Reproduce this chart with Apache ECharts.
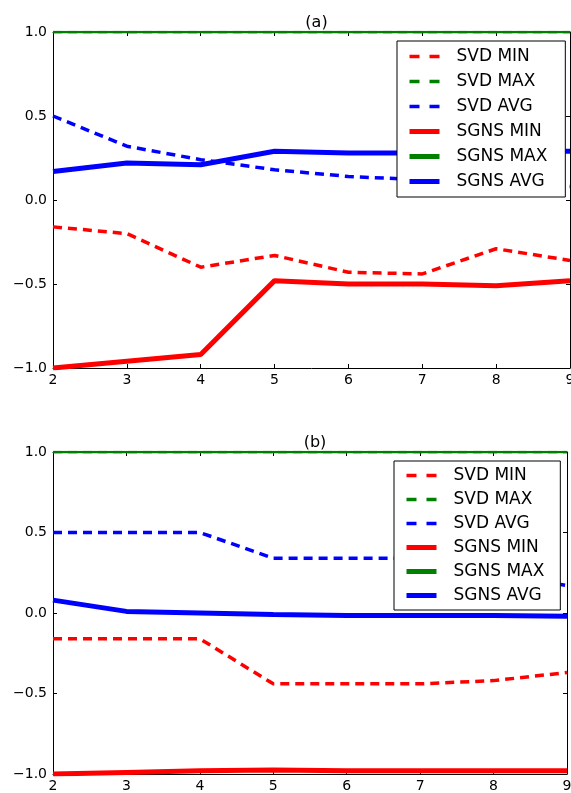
<!DOCTYPE html>
<html><head><meta charset="utf-8">
<script src="https://cdn.jsdelivr.net/npm/echarts@6/dist/echarts.min.js"></script>
<style>html,body{margin:0;padding:0;background:#fff}#c{width:571px;height:793px}</style>
</head><body><div id="c"></div>
<script>
const categories = ['2','3','4','5','6','7','8','9'];
const seriesNames = ['SVD MIN','SVD MAX','SVD AVG','SGNS MIN','SGNS MAX','SGNS AVG'];
const yTicks = [-1.0,-0.5,0.0,0.5,1.0];

// chart (a)
const a_svdMin  = [-0.16,-0.20,-0.40,-0.33,-0.43,-0.44,-0.29,-0.36];
const a_svdMax  = [1,1,1,1,1,1,1,1];
const a_svdAvg  = [0.50,0.32,0.24,0.18,0.14,0.12,0.10,0.08];
const a_sgnsMin = [-1.00,-0.96,-0.92,-0.48,-0.50,-0.50,-0.51,-0.48];
const a_sgnsMax = [1,1,1,1,1,1,1,1];
const a_sgnsAvg = [0.17,0.22,0.21,0.29,0.28,0.28,0.29,0.29];

// chart (b)
const b_svdMin  = [-0.16,-0.16,-0.16,-0.44,-0.44,-0.44,-0.42,-0.37];
const b_svdMax  = [1,1,1,1,1,1,1,1];
const b_svdAvg  = [0.50,0.50,0.50,0.34,0.34,0.34,0.25,0.17];
const b_sgnsMin = [-1.00,-0.99,-0.98,-0.975,-0.98,-0.98,-0.98,-0.98];
const b_sgnsMax = [1,1,1,1,1,1,1,1];
const b_sgnsAvg = [0.08,0.01,0.00,-0.01,-0.015,-0.015,-0.015,-0.02];

const colors = ['#ff0000','#008000','#0000ff','#ff0000','#008000','#0000ff'];
const FONT = 'DejaVu Sans';

function fmt(v){ return (v<0?'\u2212':'') + Math.abs(v).toFixed(1); }

const grids = [
  {left:53, right:1, top:32, height:336, outerBoundsMode:'none', containLabel:false},
  {left:53, right:4, top:452, height:322, outerBoundsMode:'none', containLabel:false}
];

const xAxes = [], yAxes = [];
grids.forEach((g,i)=>{
  const common = {
    type:'category', data:categories, boundaryGap:false, gridIndex:i,
    axisLine:{show:true, onZero:false, lineStyle:{color:'#000', width:1}},
    axisTick:{show:true, inside:true, length:4, alignWithLabel:true, lineStyle:{color:'#000'}},
    splitLine:{show:false}
  };
  xAxes.push(Object.assign({}, common, {position:'bottom',
    axisLabel:{show:true, color:'#000', fontFamily:FONT, fontSize:14, margin:5}}));
  xAxes.push(Object.assign({}, common, {position:'top', axisLabel:{show:false}}));
  const yc = {
    type:'value', min:-1, max:1, interval:0.5, gridIndex:i,
    axisLine:{show:true, onZero:false, lineStyle:{color:'#000', width:1}},
    axisTick:{show:true, inside:true, length:4, lineStyle:{color:'#000'}},
    splitLine:{show:false}
  };
  yAxes.push(Object.assign({}, yc, {position:'left',
    axisLabel:{show:true, color:'#000', fontFamily:FONT, fontSize:14, margin:6, formatter:fmt}}));
  yAxes.push(Object.assign({}, yc, {position:'right', axisLabel:{show:false}}));
});

const dataA = [a_svdMin,a_svdMax,a_svdAvg,a_sgnsMin,a_sgnsMax,a_sgnsAvg];
const dataB = [b_svdMin,b_svdMax,b_svdAvg,b_sgnsMin,b_sgnsMax,b_sgnsAvg];

const series = [];
[dataA, dataB].forEach((ds, gi)=>{
  ds.forEach((d, k)=>{
    const dashed = k < 3;
    const isMax = (k === 1 || k === 4);
    series.push({
      type:'line', name:seriesNames[k], data:d,
      xAxisIndex:gi*2, yAxisIndex:gi*2,
      symbol:'none', showSymbol:false, clip:true,
      color:colors[k],
      // max lines sit on the top frame edge; matplotlib clips half of the stroke
      lineStyle:{color:colors[k], width: isMax ? 2.5 : (dashed?3.5:5), type: dashed?[9,6]:'solid'},
      emphasis:{disabled:true}
    });
  });
});

function legend(left, top, gap, pad){
  return {
    left:left, top:top, orient:'vertical',
    data:seriesNames.map((n,k)=>({
      name:n,
      lineStyle:{color:colors[k], width: k<3 ? 3.5 : 5, type: k<3 ? [10,10] : 'solid'}
    })),
    itemWidth:30, itemHeight:14, itemGap:gap,
    padding:pad,
    itemStyle:{opacity:0},
    backgroundColor:'#fff', borderColor:'#000', borderWidth:1,
    textStyle:{color:'#000', fontFamily:FONT, fontSize:17, lineHeight:17, padding:[0,0,0,12]},
    selectedMode:false
  };
}

const option = {
  animation:false,
  backgroundColor:'#fff',
  title:[
    {text:'(a)', left:311.5, textAlign:'center', top:10, textStyle:{fontFamily:FONT, fontSize:16, fontWeight:'normal', color:'#000'}},
    {text:'(b)', left:310, textAlign:'center', top:430, textStyle:{fontFamily:FONT, fontSize:16, fontWeight:'normal', color:'#000'}}
  ],
  grid:grids,
  xAxis:xAxes,
  yAxis:yAxes,
  legend:[legend(397, 41, 8, [7,18,7,10]), legend(394, 461, 7, [6,16,6,10])],
  series:series
};

const chart = echarts.init(document.getElementById('c'), null, {renderer:'canvas'});
chart.setOption(option);
</script>
</body></html>
